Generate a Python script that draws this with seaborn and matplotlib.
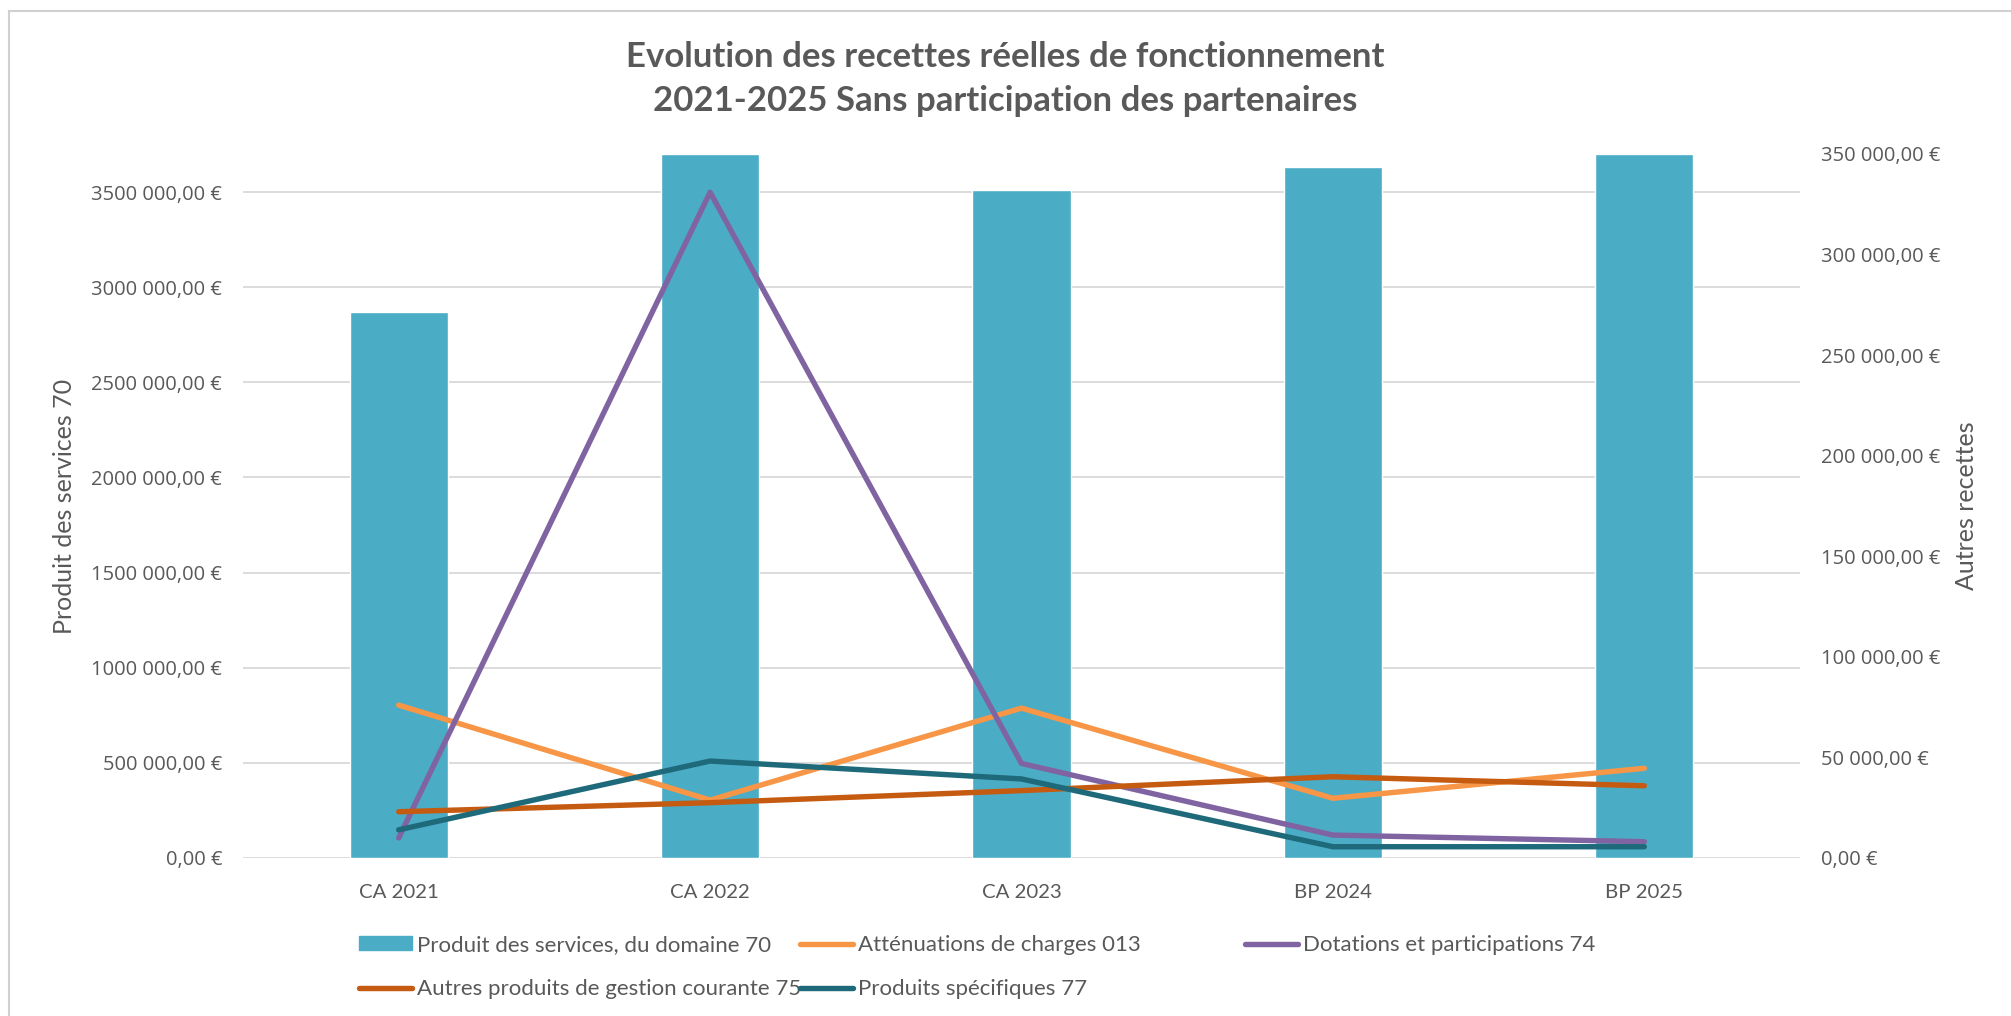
import matplotlib
matplotlib.use("Agg")
import matplotlib.pyplot as plt
import seaborn as sns
import pandas as pd
from matplotlib.ticker import FuncFormatter, MultipleLocator
from matplotlib.patches import Patch, Rectangle
from matplotlib.lines import Line2D

# données
periodes = ["CA 2021", "CA 2022", "CA 2023", "BP 2024", "BP 2025"]
produit_services_70 = [2872000, 3700000, 3510000, 3630000, 3700000]
attenuations_013 = [76000, 28800, 74500, 29700, 44600]
dotations_74 = [10000, 331000, 47000, 11400, 8100]
autres_produits_75 = [23000, 27500, 33500, 40400, 35900]
produits_specifiques_77 = [14000, 48200, 39300, 5600, 5600]

lbl_70 = "Produit des services, du domaine 70"
lbl_013 = "Atténuations de charges 013"
lbl_74 = "Dotations et participations 74"
lbl_75 = "Autres produits de gestion courante 75"
lbl_77 = "Produits spécifiques 77"

couleurs = {
    lbl_70: "#4BACC6",
    lbl_013: "#F79646",
    lbl_74: "#8064A2",
    lbl_75: "#C55A11",
    lbl_77: "#1F6A7A",
}
gris = "#595959"

df_bars = pd.DataFrame({"periode": periodes, "montant": produit_services_70})
series = {lbl_013: attenuations_013, lbl_74: dotations_74,
          lbl_75: autres_produits_75, lbl_77: produits_specifiques_77}
df_lines = pd.concat(
    [pd.DataFrame({"periode": periodes, "montant": v, "serie": k}) for k, v in series.items()],
    ignore_index=True)


def euro(v, pos=None):
    v = int(round(v))
    if v == 0:
        return "0,00 €"
    milliers, reste = divmod(v, 1000)
    return f"{milliers} {reste:03d},00 €"


sns.set_style("white")
W, H = 2011, 1016
fig = plt.figure(figsize=(W / 100, H / 100), dpi=100)
ax = fig.add_axes([243 / W, 1 - 858 / H, (1800 - 243) / W, (858 - 154) / H])

sns.barplot(data=df_bars, x="periode", y="montant", color=couleurs[lbl_70],
            saturation=1, width=0.315, ax=ax, zorder=2)
ax.set_ylim(0, 3700000)
ax.yaxis.set_major_locator(MultipleLocator(500000))
ax.set_xlim(-0.5, 4.5)
ax.grid(axis="y", color="#D9D9D9", lw=1.3, zorder=0)
ax.set_axisbelow(True)

lw = 3.9
ax2 = ax.twinx()
sns.lineplot(data=df_lines, x="periode", y="montant", hue="serie",
             hue_order=list(series.keys()), palette=couleurs, linewidth=lw,
             sort=False, legend=False, ax=ax2)
ax2.set_ylim(0, 350000)
ax2.yaxis.set_major_locator(MultipleLocator(50000))
ax.set_xlim(-0.5, 4.5)

tick_font = {"family": "Open Sans", "size": 14.5}
for a in (ax, ax2):
    for s in a.spines.values():
        s.set_visible(False)
    a.yaxis.set_major_formatter(FuncFormatter(euro))
    a.tick_params(axis="y", length=0, pad=15, colors=gris)
    for t in a.get_yticklabels():
        t.set_fontfamily(tick_font["family"])
        t.set_fontsize(tick_font["size"])

ax.tick_params(axis="x", length=0, pad=19, colors=gris)
for t in ax.get_xticklabels():
    t.set_fontfamily("Lato")
    t.set_fontsize(14.7)
ax.set_xlabel("")
ax.set_ylabel("Produit des services 70", family="Lato", fontsize=18, color=gris, labelpad=11)
ax2.set_ylabel("Autres recettes", family="Lato", fontsize=18, color=gris, labelpad=11)

fig.suptitle("Evolution des recettes réelles de fonctionnement\n2021-2025 Sans participation des partenaires",
             x=0.5, y=1 - 41 / H, va="top", family="Lato", fontweight="bold",
             fontsize=25, color=gris, linespacing=1.47)

# légende en colonnes fixes, comme dans Excel
colonnes = [
    (359, [Patch(color=couleurs[lbl_70]), Line2D([], [], color=couleurs[lbl_75], lw=lw)], [lbl_70, lbl_75]),
    (800, [Line2D([], [], color=couleurs[lbl_013], lw=lw), Line2D([], [], color=couleurs[lbl_77], lw=lw)], [lbl_013, lbl_77]),
    (1245, [Line2D([], [], color=couleurs[lbl_74], lw=lw)], [lbl_74]),
]
for x0, handles, labels in colonnes:
    fig.legend(handles, labels, loc="upper left", bbox_to_anchor=(x0 / W, 1 - 935 / H),
               frameon=False, borderpad=0, borderaxespad=0, handlelength=2.4,
               handleheight=0.55, handletextpad=0.2, labelspacing=1.1,
               prop={"family": "Lato", "size": 16}, labelcolor=gris)

fig.patches.append(Rectangle((9 / W, -0.05), 1.2, 1.05 - 11 / H, transform=fig.transFigure,
                             fill=False, edgecolor="#D0D0D0", lw=1.5))

fig.savefig("out.png", dpi=100, facecolor="white")
